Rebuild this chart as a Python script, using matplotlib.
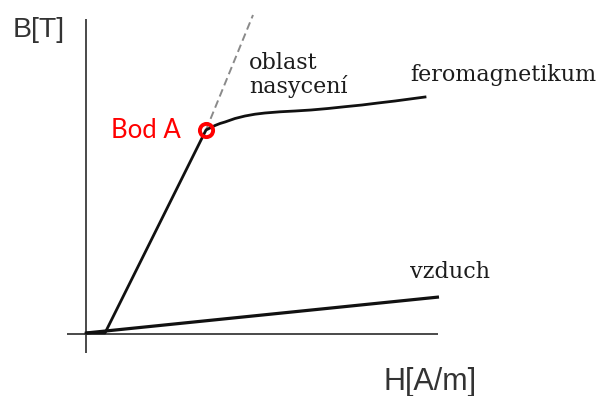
import matplotlib
matplotlib.use("Agg")
import matplotlib.pyplot as plt

# Data (arbitrary units; H horizontal, B vertical)
ferro_H = [0, 19, 120, 124, 129, 134, 139, 149, 159, 169, 179, 194, 209, 225, 242, 259, 276, 292, 309, 324, 339]
ferro_B = [1, 1, 204, 206, 208.5, 210.5, 212, 215.5, 218, 219.8, 221, 222.2, 223, 224, 225.5, 227.3, 229, 231, 233, 235, 237]
air_H = [0, 353]
air_B = [1, 37]
lin_ext_H = [120, 167]
lin_ext_B = [204, 319]
point_A_H = [120]
point_A_B = [204]

fig = plt.figure(figsize=(6.01, 3.96), dpi=100)
ax = fig.add_axes([0, 0, 1, 1])
ax.set_xlim(-86, 515)
ax.set_ylim(-62, 334)
ax.axis('off')

# axes lines
ax.plot([0, 0], [-19, 315], color='#4a4a4a', lw=1.4, solid_capstyle='butt')
ax.plot([-19, 352], [0, 0], color='#4a4a4a', lw=1.4, solid_capstyle='butt')

# dashed extension
ax.plot(lin_ext_H, lin_ext_B, color='#8a8a8a', lw=1.4, dashes=(4, 2.2))

# curves
ax.plot(ferro_H, ferro_B, color='#111111', lw=2.0, solid_joinstyle='round')
ax.plot(air_H, air_B, color='#111111', lw=2.3, solid_capstyle='butt')

# point A
ax.plot(point_A_H, point_A_B, marker='o', ms=9.5, mfc='none', mec='#ff0000', mew=2.8, ls='none')

# texts
ax.text(-73, 297, 'B[T]', fontsize=20.5, family='Liberation Sans', color='#333333', va='baseline', ha='left')
ax.text(297, -56, 'H[A/m]', fontsize=22, family='Liberation Sans', color='#333333', va='baseline', ha='left')
ax.text(25, 196, 'Bod A', fontsize=18.5, family='Lato', color='#ff0000', va='baseline', ha='left')
serif = dict(fontsize=16, family='DejaVu Serif', color='#1c1c1c', va='baseline', ha='left')
ax.text(163, 265, 'oblast', **serif)
ax.text(163, 241, 'nasycení', **serif)
ax.text(324, 253, 'feromagnetikum', **serif)
ax.text(324, 56, 'vzduch', **serif)

fig.savefig('out.png', dpi=100)
